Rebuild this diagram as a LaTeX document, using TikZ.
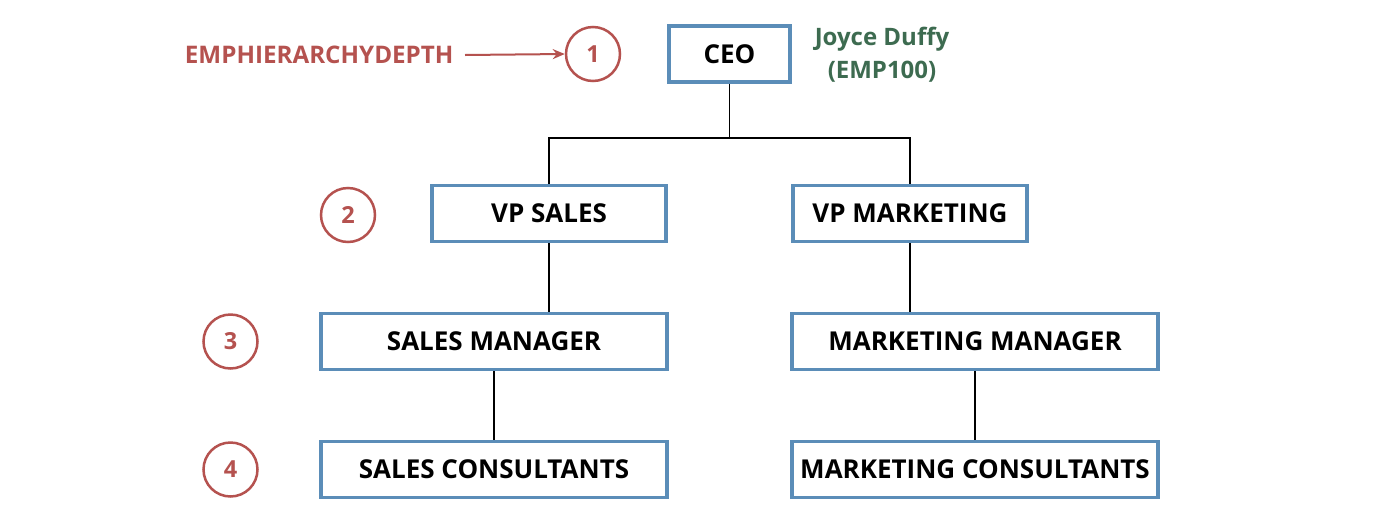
\documentclass[tikz,border=0pt]{standalone}
\usepackage{fontspec}
\setmainfont{Open Sans}
\usetikzlibrary{arrows.meta}
\definecolor{boxblue}{HTML}{5B8DB8}
\definecolor{redc}{HTML}{B5524F}
\definecolor{greenc}{HTML}{3D6B50}
\tikzset{
  rolebox/.style={draw=boxblue, line width=3.5pt, fill=white, minimum height=56pt, inner sep=0pt, font=\fontsize{26}{30}\selectfont\bfseries, text=black},
  levelc/.style={circle, draw=redc, line width=2.5pt, minimum size=54pt, inner sep=0pt, font=\fontsize{23.5}{26}\selectfont\bfseries, text=redc},
  conn/.style={draw=black, line width=1.8pt},
}
\begin{document}
\begin{tikzpicture}[x=1pt,y=-1pt]
\useasboundingbox[fill=white] (0,0) rectangle (1400,528);
\node[rolebox, minimum width=121pt] (ceo) at (729.5,54) {CEO};
\node[rolebox, minimum width=234pt] (vps) at (549,213.5) {VP SALES};
\node[rolebox, minimum width=234pt] (vpm) at (910,213.5) {VP MARKETING};
\node[rolebox, minimum width=346pt] (sm) at (494,341.5) {SALES MANAGER};
\node[rolebox, minimum width=366pt] (mm) at (975,341.5) {MARKETING MANAGER};
\node[rolebox, minimum width=346pt] (sc) at (494,469.5) {SALES CONSULTANTS};
\node[rolebox, minimum width=366pt] (mc) at (975,469.5) {MARKETING CONSULTANTS};

\node[levelc] (l1) at (593,54) {1};
\node[levelc] (l2) at (348,215) {2};
\node[levelc] (l3) at (230.5,341.5) {3};
\node[levelc] (l4) at (230.5,469.5) {4};

\node[font=\fontsize{24.2}{28}\selectfont\bfseries, text=redc, anchor=east] (emp) at (457,55) {EMPHIERARCHYDEPTH};
\node[font=\fontsize{24}{33}\selectfont\bfseries, text=greenc, align=center] (name) at (882,55) {Joyce Duffy\\(EMP100)};

\coordinate (j) at (729.5,138);
\draw[conn] (ceo.south) -- (j);
\draw[conn] (vps.north) |- (j) -| (vpm.north);
\draw[conn] (vps.south) -- (sm.north -| vps.south);
\draw[conn] (vpm.south) -- (mm.north -| vpm.south);
\draw[conn] (sm.south) -- (sc.north);
\draw[conn] (mm.south) -- (mc.north);
\draw[draw=redc, line width=2pt, -{Stealth[length=12pt,width=10pt]}] (emp.east) ++(8pt,0) -- (l1.west);
\end{tikzpicture}
\end{document}
